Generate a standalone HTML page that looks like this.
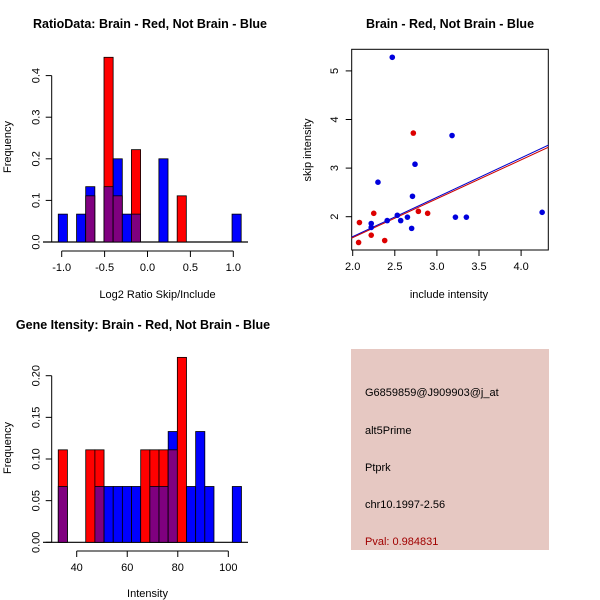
<!DOCTYPE html>
<html><head><meta charset="utf-8"><style>
body{margin:0;background:#fff}
svg{display:block;font-family:"Liberation Sans",sans-serif}
</style></head><body>
<svg id="c" width="600" height="600" viewBox="0 0 600 600">
<rect width="600" height="600" fill="#fff"/>
<text x="150" y="28" text-anchor="middle" font-size="12.5" font-weight="bold">RatioData: Brain - Red, Not Brain - Blue</text>
<text x="450" y="28" text-anchor="middle" font-size="12.5" font-weight="bold">Brain - Red, Not Brain - Blue</text>
<text x="143" y="329" text-anchor="middle" font-size="12.5" font-weight="bold">Gene Itensity: Brain - Red, Not Brain - Blue</text>
<g id="p1"></g>
<g id="p2"></g>
<g id="p3"></g>
<g>
<rect x="351" y="349" width="198" height="201" fill="#e6c8c2"/>
<text x="365" y="396" font-size="11">G6859859@J909903@j_at</text>
<text x="365" y="434" font-size="11">alt5Prime</text>
<text x="365" y="471" font-size="11">Ptprk</text>
<text x="365" y="508" font-size="11">chr10.1997-2.56</text>
<text x="365" y="545" font-size="11" fill="#a00000">Pval: 0.984831</text>
</g>
</svg>
<script>
// Ratio histogram data
const ratioStart = -1.04;
const ratioWidth = 0.1066;
const ratioBlue = [0.067,0,0.067,0.133,0,0.133,0.2,0.067,0.067,0,0,0.2,0,0,0,0,0,0,0,0.067];
const ratioRed  = [0,0,0,0.111,0,0.444,0.111,0,0.222,0,0,0,0,0.111,0,0,0,0,0,0];
const ratioXTicks = ["-1.0","-0.5","0.0","0.5","1.0"];
const ratioYTicks = ["0.0","0.1","0.2","0.3","0.4"];
// Intensity histogram data
const intStart = 32.7;
const intWidth = 3.625;
const intBlue = [0.067,0,0,0,0.067,0.067,0.067,0.067,0.067,0,0.067,0.067,0.133,0,0.067,0.133,0.067,0,0,0.067];
const intRed  = [0.111,0,0,0.111,0.111,0,0,0,0,0.111,0.111,0.111,0.111,0.222,0,0,0,0,0,0];
const intXTicks = ["40","60","80","100"];
const intYTicks = ["0.00","0.05","0.10","0.15","0.20"];
// Scatter data
const blueX = [2.47,3.18,2.74,2.30,2.71,4.25,2.53,3.22,3.35,2.65,2.41,2.57,2.22,2.22,2.70];
const blueY = [5.28,3.67,3.08,2.71,2.42,2.09,2.03,1.99,1.99,1.99,1.92,1.92,1.86,1.78,1.76];
const redX = [2.72,2.08,2.25,2.78,2.89,2.22,2.38,2.07];
const redY = [3.72,1.88,2.07,2.11,2.07,1.62,1.51,1.47];
const blueFit = [-0.03,0.81];
const redFit = [-0.03,0.80];
const scatXTicks = ["2.0","2.5","3.0","3.5","4.0"];
const scatYTicks = ["2","3","4","5"];

const NS="http://www.w3.org/2000/svg";
function mk(parent,tag,attrs){const e=document.createElementNS(NS,tag);for(const k in attrs)e.setAttribute(k,attrs[k]);parent.appendChild(e);return e;}
function txt(parent,x,y,s,rot,anchor){const t=mk(parent,'text',{x:x,y:y,'font-size':11,'text-anchor':anchor||'middle'});if(rot)t.setAttribute('transform','rotate(-90 '+x+' '+y+')');t.textContent=s;return t;}

function hist(g,start,w,blue,red,sx,sy,xTicks,yTicks,xAxisY,yAxisX,xlab,xlabY,ylabX,ylabY){
  const base=mk(g,'line',{x1:43,x2:248,y1:sy(0),y2:sy(0),stroke:'#000','stroke-width':1.2});
  
  
  for(let i=0;i<blue.length;i++){
    const x0=sx(start+i*w),x1=sx(start+(i+1)*w);
    const b=blue[i],r=red[i];
    const hi=Math.max(b,r),lo=Math.min(b,r);
    if(hi>0){const e=mk(g,'rect',{x:x0,y:sy(hi),width:x1-x0,height:sy(0)-sy(hi),fill:b>r?'#0000ff':'#ff0000',stroke:'#000','stroke-width':0.8});
      
      }
    if(lo>0){const e=mk(g,'rect',{x:x0,y:sy(lo),width:x1-x0,height:sy(0)-sy(lo),fill:'#7f007f',stroke:'#000','stroke-width':0.8});
      
      }
  }
  const xa=mk(g,'g',{});
  
  
  const xv=xTicks.map(Number);
  mk(xa,'line',{x1:sx(xv[0]),x2:sx(xv[xv.length-1]),y1:xAxisY,y2:xAxisY,stroke:'#000'});
  xTicks.forEach(t=>{const x=sx(+t);mk(xa,'line',{x1:x,x2:x,y1:xAxisY,y2:xAxisY+6,stroke:'#000'});txt(xa,x,xAxisY+20,t);});
  const ya=mk(g,'g',{});
  
  
  const yv=yTicks.map(Number);
  mk(ya,'line',{x1:yAxisX,x2:yAxisX,y1:sy(yv[0]),y2:sy(yv[yv.length-1]),stroke:'#000'});
  yTicks.forEach(t=>{const y=sy(+t);mk(ya,'line',{x1:yAxisX-6,x2:yAxisX,y1:y,y2:y,stroke:'#000'});txt(ya,yAxisX-12,y,t,true);});
  const xl=txt(g,sx((xv[0]+xv[xv.length-1])/2)+ (xlab==='Intensity'?-5:10),xlabY,xlab);
  
  
  const yl=txt(g,ylabX,ylabY,'Frequency',true);
  
  
}
// panel 1
{
  const sx=v=>147.5+v*85.8, sy=v=>242-v*416;
  hist(document.getElementById('p1'),ratioStart,ratioWidth,ratioBlue,ratioRed,sx,sy,ratioXTicks,ratioYTicks,251,51.7,'Log2 Ratio Skip/Include',298,11,147);
}
// panel 3
{
  const sx=v=>76.7+(v-40)*2.527, sy=v=>542.3-v*833;
  hist(document.getElementById('p3'),intStart,intWidth,intBlue,intRed,sx,sy,intXTicks,intYTicks,551,51.7,'Intensity',597,11,448);
}
// scatter
{
  const g=document.getElementById('p2');
  const sx=v=>352.7+(v-2)*84.2, sy=v=>216.7-(v-2)*48.6;
  const box=mk(g,'rect',{x:351.7,y:49.3,width:196.6,height:200.7,fill:'none',stroke:'#000'});
  
  
  const xa=mk(g,'g',{});
  
  
  scatXTicks.forEach(t=>{const x=sx(+t);mk(xa,'line',{x1:x,x2:x,y1:250,y2:256,stroke:'#000'});txt(xa,x,270,t);});
  const ya=mk(g,'g',{});
  
  
  scatYTicks.forEach(t=>{const y=sy(+t);mk(ya,'line',{x1:345.7,x2:351.7,y1:y,y2:y,stroke:'#000'});txt(ya,338,y,t,true);});
  const xl=txt(g,449,298,'include intensity');
  
  
  const yl=txt(g,311,150,'skip intensity',true);
  
  
  const clip=mk(g,'clipPath',{id:'sc'});mk(clip,'rect',{x:351.7,y:49.3,width:196.6,height:200.7});
  const xmin=1.98,xmax=4.33;
  [[blueFit,'#0000cc','blue-fit-line'],[redFit,'#cc0000','red-fit-line']].forEach(([f,c,n])=>{
    const l=mk(g,'line',{x1:sx(xmin),y1:sy(f[0]+f[1]*xmin),x2:sx(xmax),y2:sy(f[0]+f[1]*xmax),stroke:c,'stroke-width':1,'clip-path':'url(#sc)'});
    
    
  });
  blueX.forEach((x,i)=>{const p=mk(g,'circle',{cx:sx(x),cy:sy(blueY[i]),r:2.8,fill:'#0000dd'});
    
    });
  redX.forEach((x,i)=>{const p=mk(g,'circle',{cx:sx(x),cy:sy(redY[i]),r:2.8,fill:'#dd0000'});
    
    });
}
</script>
</body></html>
